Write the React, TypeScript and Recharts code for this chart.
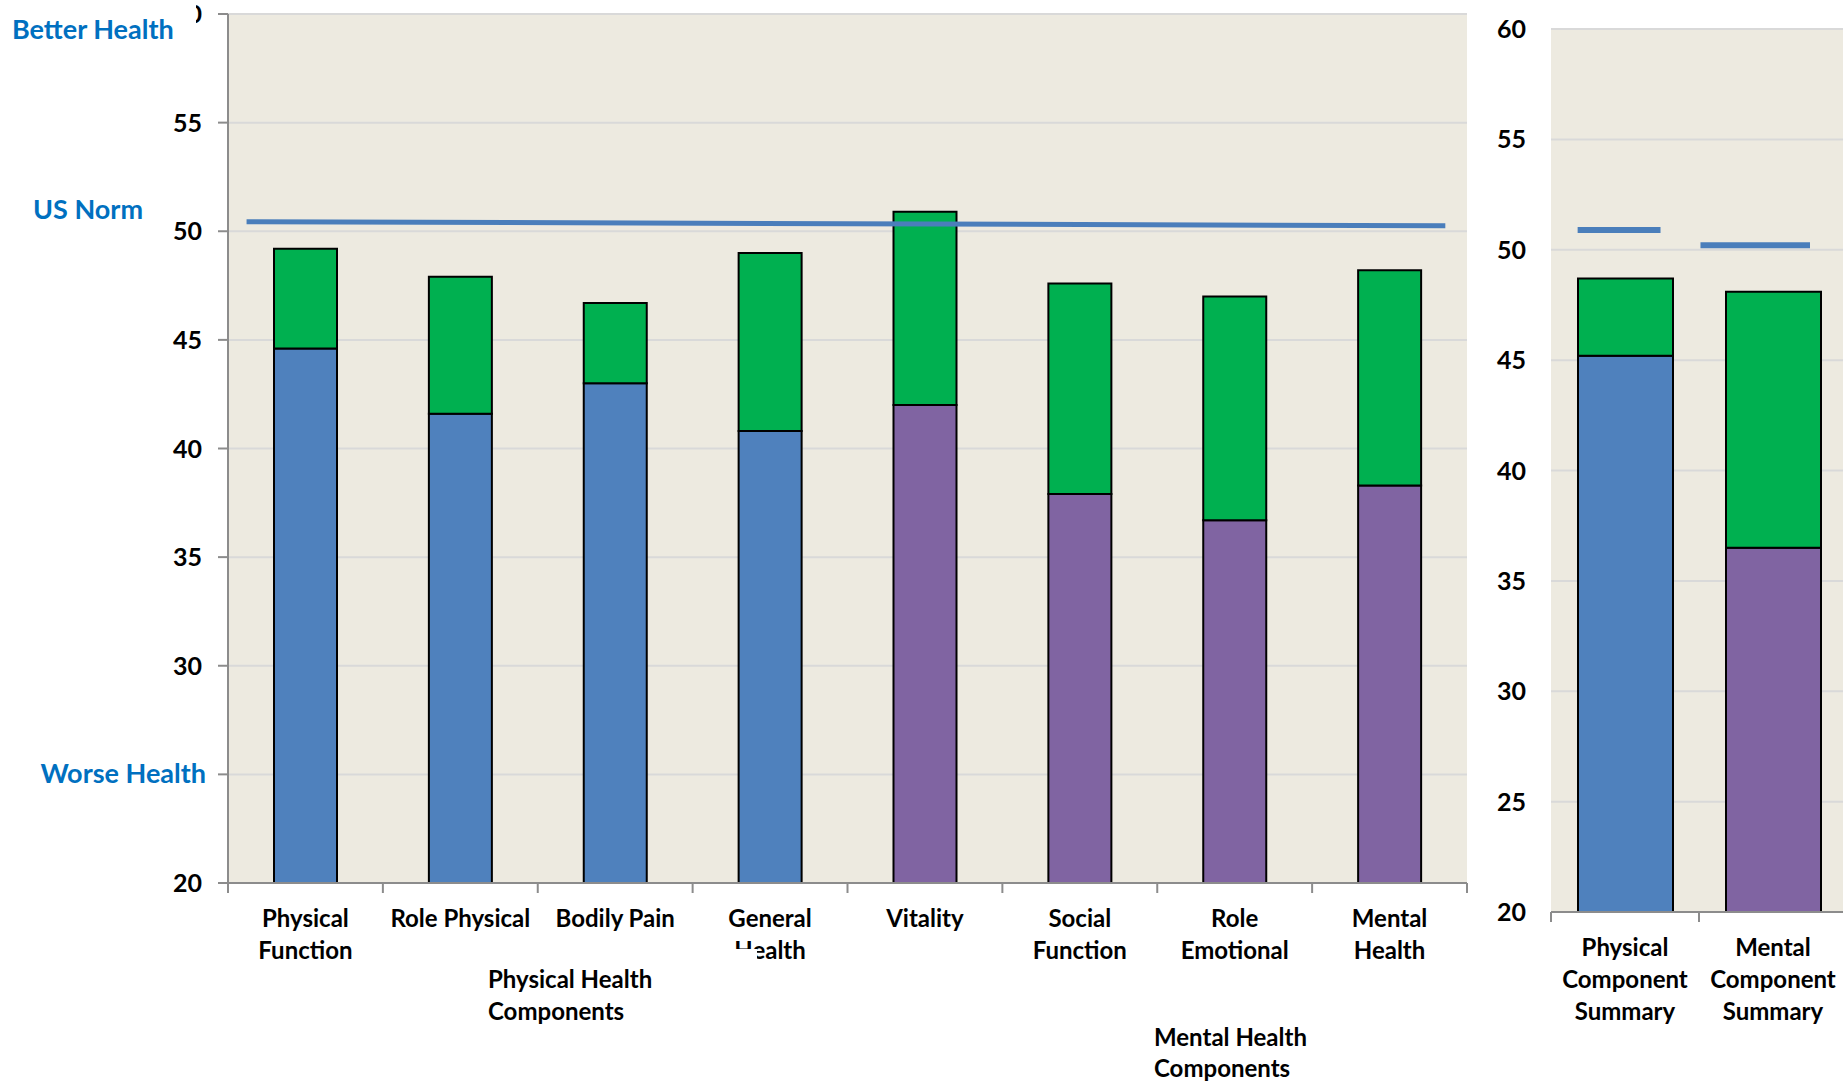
import React from "react";
import {
  ComposedChart,
  Bar,
  Cell,
  XAxis,
  YAxis,
  CartesianGrid,
  ReferenceLine,
} from "recharts";

// SF-36 subscales (baseline score, follow-up score)
const subscales = [
  "Physical\nFunction",
  "Role Physical",
  "Bodily Pain",
  "General\nHealth",
  "Vitality",
  "Social\nFunction",
  "Role\nEmotional",
  "Mental\nHealth",
];
const subscaleGroup = ["physical", "physical", "physical", "physical", "mental", "mental", "mental", "mental"];
const subscaleBaseline = [44.6, 41.6, 43.0, 40.8, 42.0, 37.9, 36.7, 38.3];
const subscaleFollowUp = [49.2, 47.9, 46.7, 49.0, 50.9, 47.6, 47.0, 48.2];

// component summaries
const summaries = ["Physical\nComponent\nSummary", "Mental\nComponent\nSummary"];
const summaryGroup = ["physical", "mental"];
const summaryBaseline = [45.2, 36.5];
const summaryFollowUp = [48.7, 48.1];

// US norm: start/end along the category axis (in category units) and score at each end
const subscaleNormX = [0.12, 7.86];
const subscaleNormY = [50.44, 50.25];
const summaryNormX = [
  [0.18, 0.74],
  [1.01, 1.75],
];
const summaryNormY = [50.9, 50.2];

const scoreTicks = [20, 25, 30, 35, 40, 45, 50, 55, 60];

const COLORS = {
  physical: "#4F81BD",
  mental: "#8064A2",
  gain: "#00B050",
  norm: "#4A7EBB",
  label: "#0070C0",
  plot: "#EDEAE0",
  grid: "#D9D9D9",
  axis: "#8C8C8C",
};
const FONT = "Lato, 'Noto Sans', sans-serif";

// slot = centre of each category on a continuous 0..n scale
const subscaleData = subscales.map((name, i) => ({
  name,
  slot: i + 0.5,
  group: subscaleGroup[i],
  baseline: subscaleBaseline[i],
  gain: +(subscaleFollowUp[i] - subscaleBaseline[i]).toFixed(2),
}));

const summaryData = summaries.map((name, i) => ({
  name,
  slot: i + 0.5,
  group: summaryGroup[i],
  baseline: summaryBaseline[i],
  gain: +(summaryFollowUp[i] - summaryBaseline[i]).toFixed(2),
}));

// tick every half slot: whole numbers are category boundaries, halves carry the names
const halfSteps = (n: number) => Array.from({ length: 2 * n + 1 }, (_, i) => i / 2);
const axisStroke = { stroke: COLORS.axis, strokeWidth: 2 };

function SlotTick({ x, y, payload, names }: any) {
  const v = payload.value;
  if (Number.isInteger(v)) {
    return <line x1={x} y1={y} x2={x} y2={y + 10} stroke={COLORS.axis} strokeWidth={2} />;
  }
  const lines = String(names[Math.floor(v)]).split("\n");
  return (
    <text
      x={x}
      y={y + 44}
      textAnchor="middle"
      fontFamily={FONT}
      fontWeight={700}
      fontSize={24}
      fill="#000"
    >
      {lines.map((line, i) => (
        <tspan key={i} x={x} dy={i === 0 ? 0 : 32}>
          {line}
        </tspan>
      ))}
    </text>
  );
}

function ScoreTick({ x, y, payload }: any) {
  const worse = payload.value === 25;
  return (
    <text
      x={worse ? x + 4 : x}
      y={y}
      dy={9}
      textAnchor="end"
      fontFamily={FONT}
      fontWeight={700}
      fontSize={worse ? 27 : 25}
      fill={worse ? COLORS.label : "#000"}
    >
      {worse ? "Worse Health" : payload.value}
    </text>
  );
}

function SummaryTick({ x, y, payload }: any) {
  return (
    <text x={x} y={y} dy={9} textAnchor="end" fontFamily={FONT} fontWeight={700} fontSize={25} fill="#000">
      {payload.value}
    </text>
  );
}

const overlayText: React.CSSProperties = {
  position: "absolute",
  fontFamily: FONT,
  fontWeight: 700,
  whiteSpace: "nowrap",
};

export default function App() {
  return (
    <div
      style={{
        position: "absolute",
        left: 0,
        top: 0,
        width: 1843,
        height: 1082,
        overflow: "hidden",
        background: "#fff",
      }}
    >
      <div style={{ position: "absolute", left: 0, top: 0 }}>
        <ComposedChart
          width={1480}
          height={1082}
          data={subscaleData}
          margin={{ top: 14, right: 13, bottom: 0, left: 0 }}
        >
          <CartesianGrid
            xAxisId="cat"
            vertical={false}
            fill={COLORS.plot}
            stroke={COLORS.grid}
            strokeWidth={2}
          />
          <XAxis xAxisId="cat" dataKey="name" hide height={0} />
          <XAxis
            xAxisId="slots"
            dataKey="slot"
            type="number"
            domain={[0, subscales.length]}
            allowDataOverflow
            ticks={halfSteps(subscales.length)}
            interval={0}
            height={199}
            axisLine={axisStroke}
            tickLine={false}
            tickSize={0}
            tickMargin={0}
            tick={<SlotTick names={subscales} />}
          />
          <YAxis
            width={228}
            domain={[20, 60]}
            allowDataOverflow
            ticks={scoreTicks}
            interval={0}
            axisLine={axisStroke}
            tickLine={axisStroke}
            tickSize={10}
            tickMargin={16}
            tick={<ScoreTick />}
          />
          <Bar
            xAxisId="cat"
            dataKey="baseline"
            stackId="score"
            barSize={63}
            stroke="#000"
            strokeWidth={2}
            isAnimationActive={false}
          >
            {subscaleData.map((d, i) => (
              <Cell key={i} fill={d.group === "physical" ? COLORS.physical : COLORS.mental} />
            ))}
          </Bar>
          <Bar
            xAxisId="cat"
            dataKey="gain"
            stackId="score"
            barSize={63}
            fill={COLORS.gain}
            stroke="#000"
            strokeWidth={2}
            isAnimationActive={false}
          />
          <ReferenceLine
            xAxisId="slots"
            ifOverflow="visible"
            segment={[
              { x: subscaleNormX[0], y: subscaleNormY[0] },
              { x: subscaleNormX[1], y: subscaleNormY[1] },
            ]}
            stroke={COLORS.norm}
            strokeWidth={5}
          />
        </ComposedChart>
      </div>

      <div style={{ position: "absolute", left: 1440, top: 0 }}>
        <ComposedChart
          width={407}
          height={1082}
          data={summaryData}
          margin={{ top: 29, right: 0, bottom: 0, left: 0 }}
        >
          <CartesianGrid
            xAxisId="cat"
            vertical={false}
            fill={COLORS.plot}
            stroke={COLORS.grid}
            strokeWidth={2}
          />
          <XAxis xAxisId="cat" dataKey="name" hide height={0} />
          <XAxis
            xAxisId="slots"
            dataKey="slot"
            type="number"
            domain={[0, summaries.length]}
            allowDataOverflow
            ticks={halfSteps(summaries.length)}
            interval={0}
            height={170}
            axisLine={axisStroke}
            tickLine={false}
            tickSize={0}
            tickMargin={0}
            tick={<SlotTick names={summaries} />}
          />
          <YAxis
            width={111}
            domain={[20, 60]}
            allowDataOverflow
            ticks={scoreTicks}
            interval={0}
            axisLine={false}
            tickLine={false}
            tickSize={0}
            tickMargin={25}
            tick={<SummaryTick />}
          />
          <Bar
            xAxisId="cat"
            dataKey="baseline"
            stackId="score"
            barSize={95}
            stroke="#000"
            strokeWidth={2}
            isAnimationActive={false}
          >
            {summaryData.map((d, i) => (
              <Cell key={i} fill={d.group === "physical" ? COLORS.physical : COLORS.mental} />
            ))}
          </Bar>
          <Bar
            xAxisId="cat"
            dataKey="gain"
            stackId="score"
            barSize={95}
            fill={COLORS.gain}
            stroke="#000"
            strokeWidth={2}
            isAnimationActive={false}
          />
          {summaryNormX.map((xs, i) => (
            <ReferenceLine
              key={i}
              xAxisId="slots"
              ifOverflow="visible"
              segment={[
                { x: xs[0], y: summaryNormY[i] },
                { x: xs[1], y: summaryNormY[i] },
              ]}
              stroke={COLORS.norm}
              strokeWidth={6}
            />
          ))}
        </ComposedChart>
      </div>

      <div
        style={{
          ...overlayText,
          left: 0,
          top: 0,
          width: 196,
          height: 46,
          background: "#fff",
          color: COLORS.label,
          fontSize: 27,
          lineHeight: "34px",
          paddingTop: 12,
          paddingLeft: 12,
          boxSizing: "border-box",
        }}
      >
        Better Health
      </div>
      <div
        style={{
          ...overlayText,
          left: 33,
          top: 192,
          color: COLORS.label,
          fontSize: 27,
          lineHeight: "34px",
        }}
      >
        US Norm
      </div>
      <div
        style={{
          ...overlayText,
          left: 478,
          top: 949,
          width: 279,
          height: 90,
          paddingLeft: 10,
          paddingTop: 14,
          boxSizing: "border-box",
          background: "#fff",
          color: "#000",
          fontSize: 24,
          lineHeight: "32px",
        }}
      >
        Physical Health
        <br />
        Components
      </div>
      <div
        style={{
          ...overlayText,
          left: 1154,
          top: 1021,
          color: "#000",
          fontSize: 24,
          lineHeight: "31px",
        }}
      >
        Mental Health
        <br />
        Components
      </div>
    </div>
  );
}
